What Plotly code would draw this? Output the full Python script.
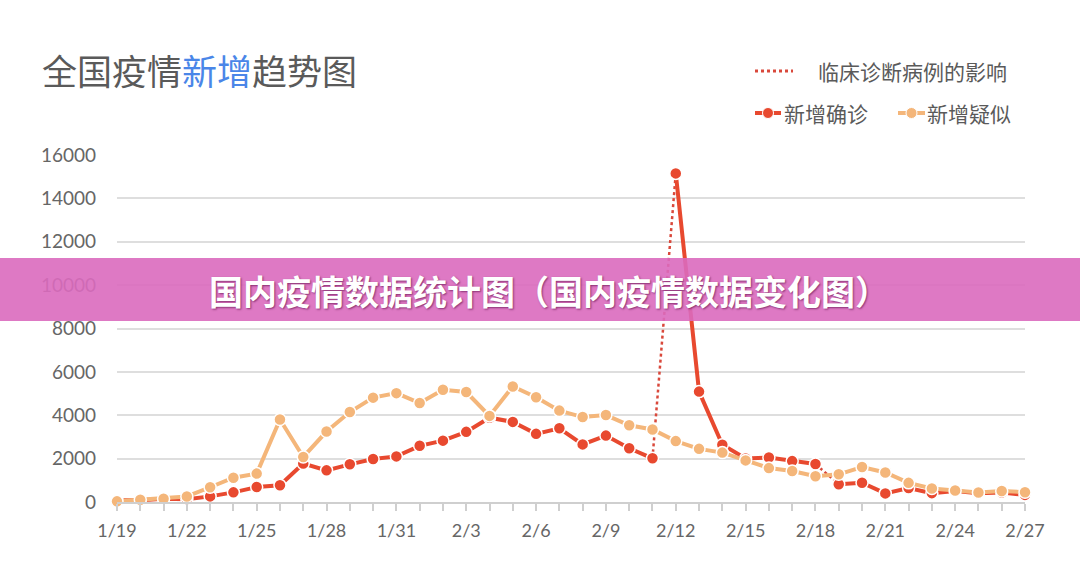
import plotly.graph_objects as go

# ---------------- data ----------------
dates = ["1/19", "1/20", "1/21", "1/22", "1/23", "1/24", "1/25", "1/26", "1/27", "1/28",
         "1/29", "1/30", "1/31", "2/1", "2/2", "2/3", "2/4", "2/5", "2/6", "2/7",
         "2/8", "2/9", "2/10", "2/11", "2/12", "2/13", "2/14", "2/15", "2/16", "2/17",
         "2/18", "2/19", "2/20", "2/21", "2/22", "2/23", "2/24", "2/25", "2/26", "2/27"]
confirmed = [77, 77, 149, 131, 259, 444, 688, 769, 1771, 1459,
             1737, 1982, 2102, 2590, 2829, 3235, 3887, 3694, 3143, 3399,
             2656, 3062, 2478, 2015, 15152, 5090, 2641, 2009, 2048, 1886,
             1749, 820, 889, 397, 648, 409, 508, 406, 433, 327]
suspected = [30, 100, 150, 257, 680, 1118, 1309, 3806, 2077, 3248,
             4148, 4812, 5019, 4562, 5173, 5072, 3971, 5328, 4833, 4214,
             3916, 4008, 3536, 3342, 2807, 2450, 2277, 1918, 1563, 1432,
             1185, 1277, 1614, 1361, 882, 620, 530, 439, 508, 452]
# segments of the confirmed line: (start index, end index, dotted?)
confirmed_segments = [(0, 23, False), (23, 24, True), (24, 30, False), (30, 31, True), (31, 39, False)]
tick_step = 3

title_plain1 = "全国疫情"
title_blue = "新增"
title_plain2 = "趋势图"
legend_clinical = "临床诊断病例的影响"
legend_confirmed = "新增确诊"
legend_suspected = "新增疑似"
banner_text = "国内疫情数据统计图（国内疫情数据变化图）"

# ---------------- style ----------------
RED = "#E8492F"
RED_DOT = "#D9483B"
ORANGE = "#F4B67A"
GRID = "#DEDEDE"
TXT = "#5A5A5A"
CJK = "Noto Sans CJK SC"

W, H = 1080, 580
L, T = 117, 155
PW, PH = 908, 347
R = W - L - PW
B = H - T - PH


def px(x):
    return (x - L) / PW


def py(y):
    return (T + PH - y) / PH


xs = list(range(len(dates)))
fig = go.Figure()

for s, e, dotted in confirmed_segments:
    fig.add_trace(go.Scatter(
        x=xs[s:e + 1], y=confirmed[s:e + 1], mode="lines",
        line=dict(color=RED_DOT if dotted else RED, width=2.5 if dotted else 4,
                  dash="dot" if dotted else "solid"),
        hoverinfo="skip", showlegend=False, cliponaxis=False))

fig.add_trace(go.Scatter(
    x=xs, y=confirmed, mode="markers", name=legend_confirmed,
    marker=dict(color=RED, size=12, line=dict(color="white", width=1.5)),
    showlegend=False, cliponaxis=False))

fig.add_trace(go.Scatter(
    x=xs, y=suspected, mode="lines+markers", name=legend_suspected,
    line=dict(color=ORANGE, width=4),
    marker=dict(color=ORANGE, size=12, line=dict(color="white", width=1.5)),
    showlegend=False, cliponaxis=False))

tickvals = xs[::tick_step]
ticktext = dates[::tick_step]

fig.update_xaxes(
    range=[0, len(dates) - 1], tickmode="array", tickvals=tickvals, ticktext=ticktext,
    showgrid=False, zeroline=False, showline=True, linecolor="#CFCFCF", linewidth=2,
    ticks="outside", ticklen=7, tickcolor="#CFCFCF", tickwidth=1.5,
    minor=dict(ticks="outside", dtick=1, tick0=0, ticklen=7, tickcolor="#CFCFCF", tickwidth=1.5),
    tickfont=dict(family="Lato", size=18, color="#666666"), ticklabelstandoff=4)
fig.update_yaxes(
    range=[0, 16000], dtick=2000, tickformat="d", showgrid=True, gridcolor=GRID, gridwidth=1.5,
    zeroline=False, showline=False, ticks="",
    tickfont=dict(family="Lato", size=19, color="#666666"), ticklabelstandoff=20)

shapes = []
annotations = []

# title
annotations.append(dict(
    xref="paper", yref="paper", x=px(40), y=py(69), xanchor="left", yanchor="middle",
    text=f"{title_plain1}<span style='color:#4A86E8'>{title_blue}</span>{title_plain2}",
    showarrow=False, font=dict(family=CJK, size=35, color=TXT)))

# legend
shapes.append(dict(type="line", xref="paper", yref="paper", x0=px(755), x1=px(793),
                   y0=py(71), y1=py(71), line=dict(color=RED_DOT, width=3, dash="dot")))
annotations.append(dict(xref="paper", yref="paper", x=px(816), y=py(71), xanchor="left",
                        yanchor="middle", text=legend_clinical, showarrow=False,
                        font=dict(family=CJK, size=21, color=TXT)))
for x0, x1, col, label, tx in [(755, 781, RED, legend_confirmed, 782),
                               (898, 925, ORANGE, legend_suspected, 925)]:
    shapes.append(dict(type="line", xref="paper", yref="paper", x0=px(x0), x1=px(x1),
                       y0=py(113), y1=py(113), line=dict(color=col, width=4)))
    cx = (x0 + x1) / 2
    shapes.append(dict(type="circle", xref="paper", yref="paper",
                       x0=px(cx - 5.5), x1=px(cx + 5.5), y0=py(113 + 5.5), y1=py(113 - 5.5),
                       fillcolor=col, line=dict(color="white", width=1)))
    annotations.append(dict(xref="paper", yref="paper", x=px(tx), y=py(113), xanchor="left",
                            yanchor="middle", text=label, showarrow=False,
                            font=dict(family=CJK, size=21, color=TXT)))

# banner
shapes.append(dict(type="rect", xref="paper", yref="paper", x0=px(-10), x1=px(W + 10),
                   y0=py(321), y1=py(258), fillcolor="rgba(218,106,190,0.9)",
                   line=dict(width=0), layer="above"))
annotations.append(dict(xref="paper", yref="paper", x=px(549), y=py(290),
                        xanchor="center", yanchor="middle", text=f"<b>{banner_text}</b>",
                        showarrow=False,
                        font=dict(family=CJK, size=34, color="white",
                                  shadow="1px 1px 2px rgba(80,0,60,0.6)")))

fig.update_layout(
    width=W, height=H, margin=dict(l=L, r=R, t=T, b=B),
    plot_bgcolor="white", paper_bgcolor="white",
    shapes=shapes, annotations=annotations, showlegend=False)

fig.write_html("out.html", config={"displayModeBar": False},
               post_script="document.body.style.margin='0';document.body.style.overflow='hidden';")
